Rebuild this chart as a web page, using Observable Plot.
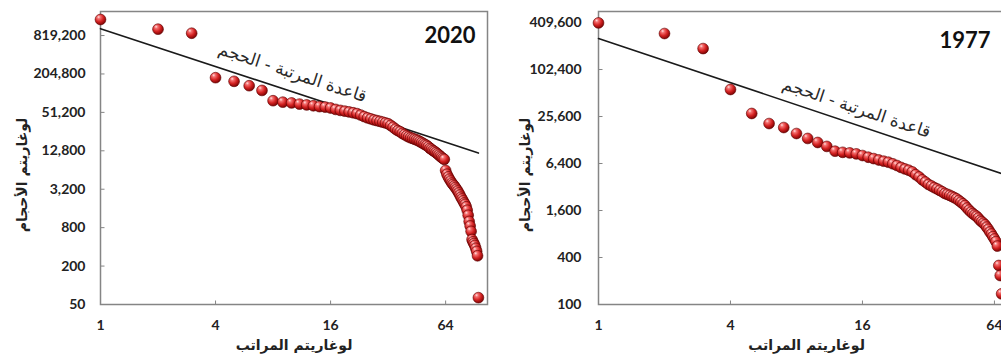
<!DOCTYPE html>
<html><head><meta charset="utf-8">
<script src="https://cdn.jsdelivr.net/npm/d3@7"></script>
<script src="https://cdn.jsdelivr.net/npm/@observablehq/plot@0.6"></script>
<style>
html,body{margin:0;padding:0;background:#fff;overflow:hidden;width:1001px;height:360px}
#wrap{position:relative;width:1001px;height:360px;overflow:hidden}
.panel{position:absolute;top:0;height:360px}
.panel svg{max-width:none !important;display:block}
</style></head><body>
<div id="wrap"><div class="panel" id="p2020" style="left:0;width:500px"></div><div class="panel" id="p1977" style="left:500px;width:530px"></div></div>
<script>
// ---- data ----
const sizes2020 = [1460000, 1030000, 890000, 179000, 157000, 134000, 113000, 78000, 74000, 72000,
  69000, 67000, 65000, 63000, 62000, 60000, 57000, 55000, 53500, 52000,
  50500, 49000, 46500, 44000, 42000, 40500, 39000, 38000, 37000, 36000,
  35000, 34000, 32000, 30000, 28000, 26500, 25500, 24000, 23000, 22000,
  21200, 20500, 20000, 19500, 19000, 18500, 17800, 17200, 16600, 16000,
  15500, 14800, 14000, 13500, 12900, 12500, 12000, 11500, 11000, 10500,
  10100, 9700, 9400, 6300, 5500, 5000, 4600, 4300, 4000, 3800,
  3600, 3400, 3200, 3000, 2800, 2600, 2400, 2250, 2100, 1950,
  1850, 1700, 1500, 1250, 1000, 850, 700, 520, 480, 450,
  420, 380, 340, 290, 64];
const sizes1977 = [405000, 296000, 190000, 56800, 28000, 20800, 18500, 15500, 13400, 11900,
  10600, 9200, 8900, 8750, 8500, 8100, 7700, 7400, 7100, 6850,
  6650, 6350, 6030, 5700, 5450, 5250, 5000, 4600, 4300, 3950,
  3700, 3450, 3300, 3150, 3030, 2900, 2780, 2650, 2580, 2500,
  2420, 2340, 2260, 2150, 2050, 1950, 1850, 1720, 1620, 1530,
  1460, 1400, 1350, 1280, 1200, 1150, 1100, 1050, 980, 920,
  850, 800, 740, 690, 640, 560, 316, 235, 137];
const xTicks = [1, 4, 16, 64];
const yTicks2020 = [50, 200, 800, 3200, 12800, 51200, 204800, 819200];
const yTicks1977 = [100, 400, 1600, 6400, 25600, 102400, 409600];
const ruleRank2020 = [1, 95];
const ruleSize2020 = [1050000, 11800];
const ruleRank1977 = [1, 79];
const ruleSize1977 = [256000, 4190];
const ruleLabel = "قاعدة المرتبة - الحجم";
const xTitle = "لوغاريتم المراتب";
const yTitle = "لوغاريتم الأحجام";

const hTick = {draw(ctx) { ctx.moveTo(0, 0); ctx.lineTo(4, 0); }};
const vTick = {draw(ctx) { ctx.moveTo(0, 0); ctx.lineTo(0, -4); }};

function panel(o) {
  const pts = o.sizes.map((s, i) => ({rank: i + 1, size: s}));
  const rule = o.ruleRank.map((r, i) => ({rank: r, size: o.ruleSize[i]}));
  const mid = {rank: Math.sqrt(o.ruleRank[0] * o.ruleRank[1]), size: Math.sqrt(o.ruleSize[0] * o.ruleSize[1])};
  const mt = 11, mb = 56, H = 360;
  const iw = o.width - o.ml - o.mr, ih = H - mt - mb;
  const kx = iw / Math.log(o.xDomain[1] / o.xDomain[0]);
  const ky = ih / Math.log(o.yDomain[1] / o.yDomain[0]);
  const slope = (ky * Math.log(o.ruleSize[0] / o.ruleSize[1])) / (kx * Math.log(o.ruleRank[1] / o.ruleRank[0]));
  const angle = Math.atan(slope) * 180 / Math.PI;
  const ar = "'DejaVu Sans', sans-serif";
  const plot = Plot.plot({
    width: o.width, height: H, marginLeft: o.ml, marginRight: o.mr, marginTop: mt, marginBottom: mb,
    x: {type: "log", domain: o.xDomain, axis: null},
    y: {type: "log", domain: o.yDomain, axis: null},
    style: {fontFamily: "Lato, sans-serif", background: "#fff", overflow: "visible", maxWidth: "none"},
    marks: [
      Plot.frame({stroke: "#858585", strokeWidth: 1.5}),
      Plot.dot(xTicks, {x: d => d, frameAnchor: "bottom", symbol: vTick, stroke: "#858585", fill: "none", strokeWidth: 1}),
      Plot.dot(o.yTicks, {y: d => d, frameAnchor: "left", symbol: hTick, stroke: "#858585", fill: "none", strokeWidth: 1}),
      Plot.text(xTicks, {x: d => d, frameAnchor: "bottom", dy: 21, text: d => String(d), fontSize: 14, fontWeight: "bold",
        fill: "#222", textAnchor: "middle", lineAnchor: "middle"}),
      Plot.text(o.yTicks, {y: d => d, frameAnchor: "left", dx: -o.tickPad, text: d3.format(","), fontSize: 14, fontWeight: "bold",
        fill: "#222", textAnchor: "end", lineAnchor: "middle"}),
      Plot.line(rule, {x: "rank", y: "size", stroke: "#1a1a1a", strokeWidth: 1.6}),
      Plot.text([mid], {x: "rank", y: "size", text: () => ruleLabel, rotate: angle, dx: o.labDx, dy: o.labDy,
        fontSize: 17, fill: "#2a2a2a", fontFamily: ar, textAnchor: "middle", lineAnchor: "middle"}),
      Plot.dot(pts, {x: "rank", y: "size", r: 5.4, fill: `url(#${o.grad})`, stroke: "#5c0000", strokeWidth: 0.6}),
      Plot.text([o.title], {frameAnchor: "top-right", text: d => d, dx: o.tDx, dy: o.tDy, fontSize: 22, fontWeight: "bold",
        textAnchor: "end", lineAnchor: "middle", fill: "#111"}),
      Plot.text([xTitle], {frameAnchor: "bottom", text: d => d, dy: 41, fontSize: 14, fontWeight: "bold",
        fill: "#222", fontFamily: ar, textAnchor: "middle", lineAnchor: "middle"}),
      Plot.text([yTitle], {frameAnchor: "left", text: d => d, dx: o.yTitleDx, dy: 17, rotate: -90, fontSize: 14,
        fontWeight: "bold", fill: "#222", fontFamily: ar, textAnchor: "middle", lineAnchor: "middle"})
    ]
  });
  plot.style.maxWidth = "none";
  plot.style.width = o.width + "px";
  plot.style.height = H + "px";
  const defs = d3.select(plot).insert("defs", ":first-child");
  const g = defs.append("radialGradient").attr("id", o.grad).attr("cx", "40%").attr("cy", "35%").attr("r", "68%").attr("fx", "32%").attr("fy", "26%");
  [["0%", "#ffe4e4"], ["22%", "#f47070"], ["58%", "#d42222"], ["100%", "#760000"]].forEach(([off, c]) =>
    g.append("stop").attr("offset", off).attr("stop-color", c));
  document.getElementById(o.id).appendChild(plot);
}

panel({id: "p2020", width: 500, ml: 100, mr: 13, xDomain: [1, 106], yDomain: [50, 1950000], yTicks: yTicks2020,
  sizes: sizes2020, ruleRank: ruleRank2020, ruleSize: ruleSize2020, title: "2020", tDx: -12, tDy: 24,
  labDx: 3, labDy: -18, tickPad: 15, grad: "ball2020", yTitleDx: -78});
panel({id: "p1977", width: 530, ml: 98, mr: 16, xDomain: [1, 79], yDomain: [100, 567000], yTicks: yTicks1977,
  sizes: sizes1977, ruleRank: ruleRank1977, ruleSize: ruleSize1977, title: "1977", tDx: -24, tDy: 29,
  labDx: 50, labDy: 0, tickPad: 17, grad: "ball1977", yTitleDx: -73});
</script>
</body></html>
